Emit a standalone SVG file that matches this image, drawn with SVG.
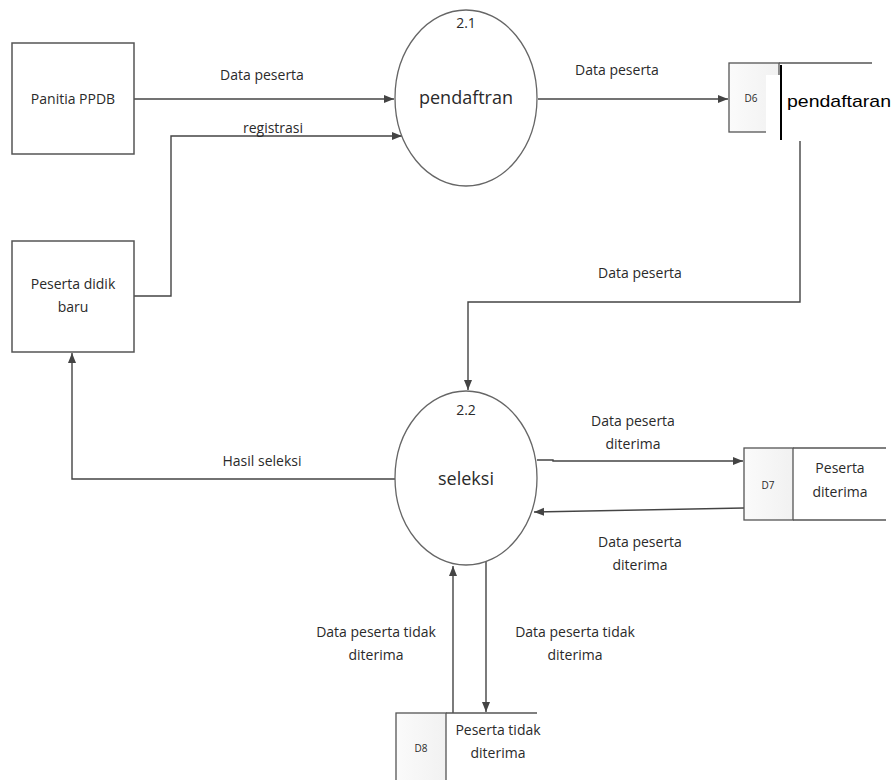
<svg xmlns="http://www.w3.org/2000/svg" width="896" height="780" viewBox="0 0 896 780">
<style>
text{font-family:"Open Sans","Noto Sans",sans-serif;fill:#2a2a2a;font-size:14px;text-anchor:middle}
.ent{fill:#fff;stroke:#555;stroke-width:1.5}
.proc{fill:#fff;stroke:#666;stroke-width:1.3}
.store{fill:url(#g);stroke:#555;stroke-width:1.3}
.ln{fill:none;stroke:#555;stroke-width:1.5}
.con{fill:none;stroke:#444;stroke-width:1.4}
.big{font-size:18px}
.sm{font-size:10px}
</style>
<defs>
<linearGradient id="g" x1="0" y1="0" x2="1" y2="0">
<stop offset="0" stop-color="#fbfbfb"/><stop offset="1" stop-color="#f1f1f1"/>
</linearGradient>
<marker id="a" viewBox="0 0 10 10" refX="10" refY="5" markerWidth="10" markerHeight="10" markerUnits="userSpaceOnUse" orient="auto">
<path d="M0,1 L10,5 L0,9 Z" fill="#444"/>
</marker>
</defs>

<g id="connectors">
<path class="con" d="M134,99 H394" marker-end="url(#a)"/>
<path class="con" d="M134,296 H171 V136 H402" marker-end="url(#a)"/>
<path class="con" d="M538,99 H728" marker-end="url(#a)"/>
<path class="con" d="M800,140 V302 H468 V390" marker-end="url(#a)"/>
<path class="con" d="M395,479 H72 V353" marker-end="url(#a)"/>
<path class="con" d="M537,460 H553 V461 H743" marker-end="url(#a)"/>
<path class="con" d="M744,508 L534,512" marker-end="url(#a)"/>
<path class="con" d="M453,713 V566" marker-end="url(#a)"/>
<path class="con" d="M486,560 V712" marker-end="url(#a)"/>
<text x="262" y="80">Data peserta</text>
<text x="273" y="133">registrasi</text>
<text x="617" y="75">Data peserta</text>
<text x="640" y="278">Data peserta</text>
<text x="262" y="466">Hasil seleksi</text>
<text x="633" y="426">Data peserta</text>
<text x="633" y="449">diterima</text>
<text x="640" y="547">Data peserta</text>
<text x="640" y="570">diterima</text>
<text x="376" y="637">Data peserta tidak</text>
<text x="376" y="660">diterima</text>
<text x="575" y="637">Data peserta tidak</text>
<text x="575" y="660">diterima</text>
</g>

<g id="panitia">
<rect class="ent" x="12" y="43" width="122" height="111"/>
<text x="73" y="104">Panitia PPDB</text>
</g>

<g id="peserta">
<rect class="ent" x="12" y="241" width="122" height="111"/>
<text x="73" y="289">Peserta didik</text>
<text x="73" y="312">baru</text>
</g>

<g id="p21">
<ellipse class="proc" cx="466" cy="98" rx="71" ry="88"/>
<text x="466" y="28">2.1</text>
<text class="big" x="466" y="104">pendaftran</text>
</g>

<g id="p22">
<ellipse class="proc" cx="466" cy="478" rx="71" ry="87"/>
<text x="466" y="415">2.2</text>
<text class="big" x="466" y="485">seleksi</text>
</g>

<g id="d6">
<rect class="store" x="729" y="63" width="50" height="69"/>
<path class="ln" d="M779,63 H872"/>
<text class="sm" x="751" y="102">D6</text>
<rect x="766" y="75" width="130" height="66" fill="#fff"/>
<path d="M781,65 V140" stroke="#000" stroke-width="2"/>
<text x="787" y="107" style="font-family:'Liberation Sans',Arial,sans-serif;font-size:17px;fill:#000;text-anchor:start" textLength="104" lengthAdjust="spacingAndGlyphs">pendaftaran</text>
</g>

<g id="d7">
<rect class="store" x="744" y="448" width="49" height="72"/>
<path class="ln" d="M793,448 H886 M793,520 H886"/>
<text class="sm" x="768" y="489">D7</text>
<text x="840" y="473">Peserta</text>
<text x="840" y="497">diterima</text>
</g>

<g id="d8">
<rect class="store" x="396" y="713" width="50" height="70"/>
<path class="ln" d="M446,713 H537"/>
<text class="sm" x="421" y="752">D8</text>
<text x="498" y="735">Peserta tidak</text>
<text x="498" y="758">diterima</text>
</g>
</svg>
